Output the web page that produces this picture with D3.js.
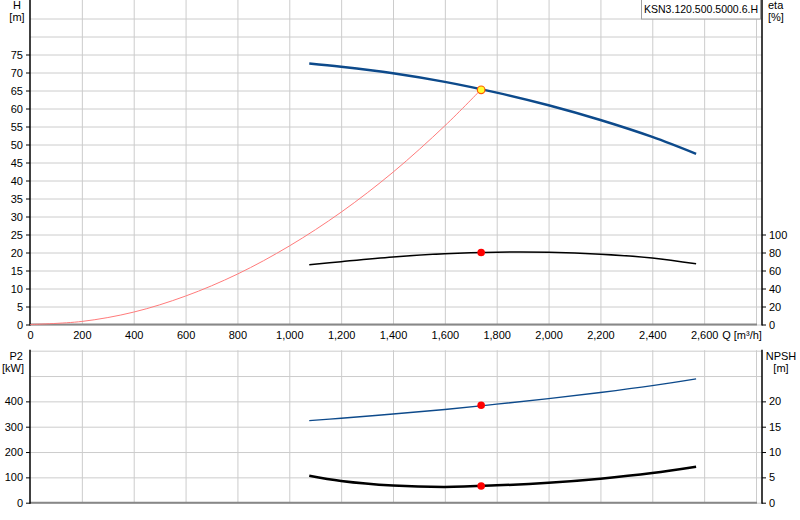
<html lang="en">
<head>
<meta charset="utf-8">
<title>KSN3 pump curves</title>
<style>
  body { margin: 0; background: white; font-family: "Liberation Sans", Arial, sans-serif; }
  svg { display: block; background: white; }
  .grid line { stroke: #cccccc; stroke-width: 1; }
  .grid path { display: none; }
  .axis text { font-family: "Liberation Sans", Arial, sans-serif; font-size: 11px; fill: #000; }
  .axis path { display: none; }
  .axis line { stroke: #000; }
  .lbl { font-family: "Liberation Sans", Arial, sans-serif; font-size: 11px; fill: #000; }
</style>
</head>
<body>
<script src="https://cdnjs.cloudflare.com/ajax/libs/d3/7.8.5/d3.min.js"></script>
<script>
// values
var qTicks = [0, 200, 400, 600, 800, 1000, 1200, 1400, 1600, 1800, 2000, 2200, 2400, 2600];
var qGrid = [200, 400, 600, 800, 1000, 1200, 1400, 1600, 1800, 2000, 2200, 2400, 2600, 2800];
var hTicks = [0, 5, 10, 15, 20, 25, 30, 35, 40, 45, 50, 55, 60, 65, 70, 75];
var hGrid = [0, 5, 10, 15, 20, 25, 30, 35, 40, 45, 50, 55, 60, 65, 70, 75, 80, 85];
var etaTicks = [0, 20, 40, 60, 80, 100];
var p2Ticks = [0, 100, 200, 300, 400];
var p2Grid = [0, 100, 200, 300, 400, 500, 600];
var npshTicks = [0, 5, 10, 15, 20];

var pumpQ   = [1077, 1200, 1400, 1600, 1800, 2000, 2200, 2400, 2569];
var headH   = [72.5, 71.6, 69.8, 67.4, 64.4, 60.9, 56.8, 52.1, 47.4];
var etaPct  = [66.3, 69.8, 75.0, 78.6, 80.3, 80.2, 78.1, 73.9, 67.4];
var powerP2 = [324, 333.5, 350, 368, 389, 411, 435, 462, 489];
var npshM   = [5.33, 4.3, 3.4, 3.12, 3.42, 3.95, 4.75, 5.85, 7.1];

var systemQ = [0, 200, 400, 600, 800, 1000, 1200, 1400, 1600, 1740];
var systemH = [0, 0.85, 3.45, 7.9, 14.0, 21.8, 31.2, 42.3, 55.2, 65.3];

var dutyQ = 1740, dutyH = 65.2, dutyEta = 80, dutyP2 = 384.5, dutyNpsh = 3.3;
var title = "KSN3.120.500.5000.6.H";

var W = 800, H = 520;
var left = 30, right = 762;

var svg = d3.select("body").append("svg").attr("width", W).attr("height", H);

var x = d3.scaleLinear().domain([0, 2800]).range([left, 756]);

// top panel: head + efficiency
var topY0 = 324.5, topY1 = 0.5;
var yH = d3.scaleLinear().domain([0, 90]).range([topY0, topY1]);
var yEta = d3.scaleLinear().domain([0, 360]).range([topY0, topY1]);

// bottom panel: power + NPSH
var botY0 = 502.7, botY1 = 350.7;
var yP = d3.scaleLinear().domain([0, 600]).range([botY0, botY1]);
var yN = d3.scaleLinear().domain([0, 30]).range([botY0, botY1]);

function drawGrid(ys, gridVals, y0, y1) {
  svg.append("g").attr("class", "grid")
    .attr("transform", "translate(0," + y0 + ")")
    .call(d3.axisBottom(x).tickValues(qGrid).tickSize(-(y0 - y1 + 0.5)).tickFormat(""));
  svg.append("g").attr("class", "grid")
    .attr("transform", "translate(" + left + ",0)")
    .call(d3.axisLeft(ys).tickValues(gridVals).tickSize(-(right - left)).tickFormat(""));
}
drawGrid(yH, hGrid, topY0, topY1);
drawGrid(yP, p2Grid, botY0, botY1);

// frame lines
function frame(y0, y1) {
  svg.append("line").attr("x1", left).attr("x2", 757).attr("y1", y0).attr("y2", y0)
    .attr("stroke", "#888").attr("stroke-width", 2);
  svg.append("line").attr("x1", left).attr("x2", left).attr("y1", y1 - 1).attr("y2", y0 + 1)
    .attr("stroke", "#000").attr("stroke-width", 1.5);
  svg.append("line").attr("x1", right).attr("x2", right).attr("y1", y1 - 1).attr("y2", y0 + 1)
    .attr("stroke", "#000").attr("stroke-width", 1.5);
}
frame(topY0, topY1);
frame(botY0, botY1);

// axes
svg.append("g").attr("class", "axis")
  .attr("transform", "translate(" + left + ",0)")
  .call(d3.axisLeft(yH).tickValues(hTicks).tickSize(4).tickPadding(3));
svg.append("g").attr("class", "axis")
  .attr("transform", "translate(" + right + ",0)")
  .call(d3.axisRight(yEta).tickValues(etaTicks).tickSize(4).tickPadding(3));
svg.append("g").attr("class", "axis")
  .attr("transform", "translate(" + left + ",0)")
  .call(d3.axisLeft(yP).tickValues(p2Ticks).tickSize(4).tickPadding(3));
svg.append("g").attr("class", "axis")
  .attr("transform", "translate(" + right + ",0)")
  .call(d3.axisRight(yN).tickValues(npshTicks).tickSize(4).tickPadding(3));
svg.append("g").attr("class", "axis")
  .attr("transform", "translate(0," + topY0 + ")")
  .call(d3.axisBottom(x).tickValues(qTicks).tickSize(0).tickPadding(7).tickFormat(d3.format(",")));

// axis captions
function label(t, px, py, anchor) {
  svg.append("text").attr("class", "lbl").attr("x", px).attr("y", py)
    .attr("text-anchor", anchor).text(t);
}
label("H", 17, 9, "middle");
label("[m]", 17, 21, "middle");
label("eta", 768, 9, "start");
label("[%]", 768, 21, "start");
label("P2", 23, 360, "end");
label("[kW]", 24, 372, "end");
label("NPSH", 781, 360, "middle");
label("[m]", 781, 372, "middle");
svg.append("text").attr("class", "lbl").attr("x", x(2600) + 18).attr("y", topY0 + 14.5)
  .text("Q [m³/h]");

// title box
svg.append("rect").attr("x", 641.5).attr("y", -1).attr("width", 119).attr("height", 20)
  .attr("fill", "white").attr("stroke", "#a0a0a0");
svg.append("text").attr("class", "lbl").attr("x", 644).attr("y", 13)
  .attr("textLength", 114).attr("lengthAdjust", "spacingAndGlyphs").text(title);

// curves
var pump = pumpQ.map(function(q, i) {
  return { q: q, h: headH[i], eta: etaPct[i], p2: powerP2[i], npsh: npshM[i] };
});
var sys = systemQ.map(function(q, i) { return { q: q, h: systemH[i] }; });

function curve(data, ys, key, color, width) {
  var line = d3.line().curve(d3.curveCatmullRom)
    .x(function(d) { return x(d.q); })
    .y(function(d) { return ys(d[key]); });
  svg.append("path").datum(data).attr("d", line)
    .attr("fill", "none").attr("stroke", color).attr("stroke-width", width);
}
curve(sys, yH, "h", "#ff7b7b", 1);
curve(pump, yH, "h", "#0d4a8b", 2.4);
curve(pump, yEta, "eta", "#000", 1.5);
curve(pump, yP, "p2", "#0d4a8b", 1.4);
curve(pump, yN, "npsh", "#000", 2.5);

// duty points
function dot(ys, v, fill, stroke, r) {
  svg.append("circle").attr("cx", x(dutyQ)).attr("cy", ys(v)).attr("r", r)
    .attr("fill", fill).attr("stroke", stroke).attr("stroke-width", stroke === "none" ? 0 : 1.2);
}
dot(yEta, dutyEta, "#ff0000", "none", 3.8);
dot(yP, dutyP2, "#ff0000", "none", 3.8);
dot(yN, dutyNpsh, "#ff0000", "none", 3.8);
dot(yH, dutyH, "#ffff33", "#ff5a00", 3.8);
</script>
</body>
</html>
